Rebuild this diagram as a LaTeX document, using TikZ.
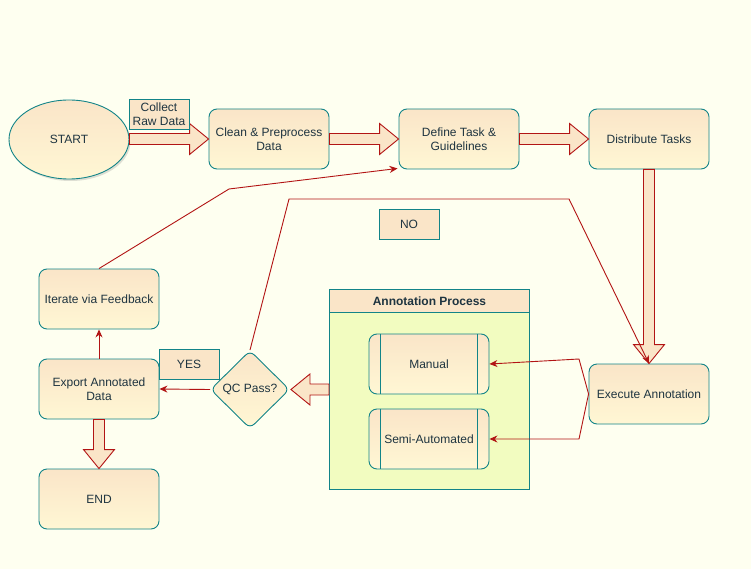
\documentclass[tikz,border=0pt]{standalone}
\usepackage{fontspec}
\setmainfont{Liberation Sans}
\usetikzlibrary{shapes.geometric,arrows.meta,calc,shadows}
\definecolor{bgc}{HTML}{FEFFF0}
\definecolor{strk}{HTML}{128488}
\definecolor{fillA}{HTML}{FAE5C8}
\definecolor{fillB}{HTML}{FFF7D4}
\definecolor{arr}{HTML}{B21414}
\definecolor{txt}{HTML}{1E3440}
\definecolor{contfill}{HTML}{F2FCC0}
\begin{document}
\begin{tikzpicture}[x=1pt,y=-1pt,
  font=\fontsize{12}{14}\selectfont,
  box/.style={draw=strk, line width=0.9pt, rounded corners=8pt, top color=fillA, bottom color=fillB,
    minimum width=120pt, minimum height=60pt, align=center, inner sep=2pt, text=txt},
  lbl/.style={draw=strk, line width=0.9pt, fill=fillA, minimum width=60pt, minimum height=30pt,
    align=center, inner sep=1pt, text=txt},
  blk/.style={draw=arr, fill=fillA, line width=0.9pt},
  con/.style={draw=arr, line width=0.9pt, -{Stealth[length=8pt,width=7pt]}},
  plain/.style={draw=arr, line width=0.9pt}
]
\fill[bgc] (0,0) rectangle (751,569);
\useasboundingbox (0,0) rectangle (751,569);

% nodes
\node[ellipse, draw=strk, line width=0.9pt, top color=fillA, bottom color=fillB, text=txt,
  minimum width=120pt, minimum height=79pt, inner sep=0pt,
  drop shadow={opacity=0.25, shadow xshift=1.5pt, shadow yshift=-2pt}] (start) at (69,139.5) {START};
\node[box] (clean) at (269,139) {Clean \& Preprocess\\Data};
\node[box] (define) at (459,139) {Define Task \&\\Guidelines};
\node[box] (dist) at (649,139) {Distribute Tasks};
\node[box] (exec) at (649,394) {Execute Annotation};
\node[box] (iter) at (99,299) {Iterate via Feedback};
\node[box] (export) at (99,389) {Export Annotated\\Data};
\node[box] (endn) at (99,499) {END};
\node[diamond, draw=strk, line width=0.9pt, rounded corners=6pt, top color=fillA, bottom color=fillB, text=txt,
  minimum width=79pt, minimum height=78pt, inner sep=0pt] (qc) at (250,389.5) {QC Pass?};

% container
\node[draw=strk, line width=0.9pt, fill=contfill, minimum width=200pt, minimum height=200pt,
  anchor=north west, inner sep=0pt] (cont) at (329,289) {};
\node[draw=strk, line width=0.9pt, fill=fillA, minimum width=200pt, minimum height=23pt,
  anchor=north west, inner sep=0pt, text=txt, font=\fontsize{12}{14}\selectfont\bfseries] (conthead) at (329,289) {Annotation Process};
\node[box] (manual) at (429,364) {Manual};
\node[box] (semi) at (429,439) {Semi-Automated};
\foreach \n in {manual,semi}{
  \draw[strk, line width=0.9pt] ($(\n.north west)+(12,0)$) -- ($(\n.south west)+(12,0)$);
  \draw[strk, line width=0.9pt] ($(\n.north east)+(-12,0)$) -- ($(\n.south east)+(-12,0)$);
}

% block arrows (horizontal, rightwards)
\foreach \a/\b in {start/clean, clean/define, define/dist}{
  \draw[blk] let \p1=(\a.east), \p2=(\b.west) in
    (\x1,\y2+5.5pt) -- (\x2-19pt,\y2+5.5pt) -- (\x2-19pt,\y2+15.5pt) -- (\x2,\y2)
    -- (\x2-19pt,\y2-15.5pt) -- (\x2-19pt,\y2-5.5pt) -- (\x1,\y2-5.5pt) -- cycle;
}
% block arrows (vertical, downwards)
\foreach \a/\b in {dist/exec, export/endn}{
  \draw[blk] let \p1=(\a.south), \p2=(\b.north) in
    (\x2-5.5pt,\y1) -- (\x2-5.5pt,\y2+19pt) -- (\x2-15.5pt,\y2+19pt) -- (\x2,\y2)
    -- (\x2+15.5pt,\y2+19pt) -- (\x2+5.5pt,\y2+19pt) -- (\x2+5.5pt,\y1) -- cycle;
}
% block arrow leftwards: container -> QC
\draw[blk] let \p1=(cont.west), \p2=($(qc.east)+(1,0)$) in
  (\x1,\y2+5.5pt) -- (\x2+19pt,\y2+5.5pt) -- (\x2+19pt,\y2+15.5pt) -- (\x2,\y2)
  -- (\x2+19pt,\y2-15.5pt) -- (\x2+19pt,\y2-5.5pt) -- (\x1,\y2-5.5pt) -- cycle;

% labels
\node[lbl] (collect) at (159,114) {Collect\\Raw Data};
\node[lbl] (no) at (409,224) {NO};
\node[lbl] (yes) at (189,364) {YES};

% connectors
\draw[con] (qc.north) -- (289,199) -- (569,199) -- (exec.north);
\draw[con] (iter.north) -- (229,189) -- ($(define.south west)+(-1,-1)$);
\draw[con] (qc.west) -- (export.east);
\draw[con] (export.north) -- (iter.south);
\draw[con] (exec.west) -- (579,359) -- (manual.east);
\draw[con] (exec.west) -- (579,439) -- (semi.east);
\end{tikzpicture}
\end{document}
